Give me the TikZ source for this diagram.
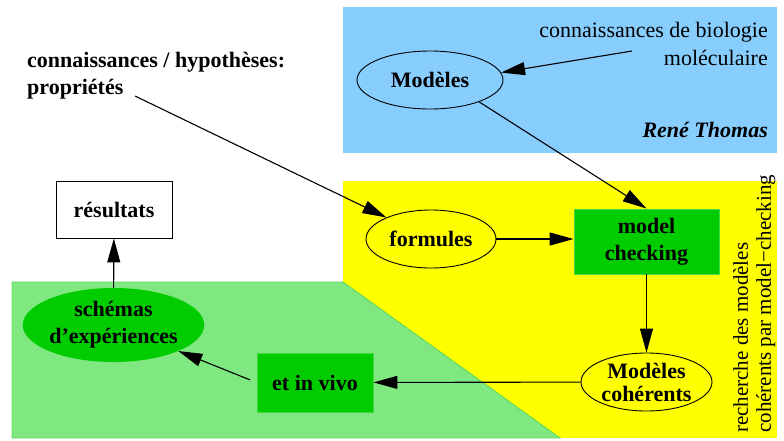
\documentclass[tikz,border=0pt]{standalone}
\usepackage{fontspec}
\setmainfont{Liberation Serif}
\usetikzlibrary{arrows.meta,shapes.geometric}
\definecolor{skyzone}{HTML}{87CEFF}
\definecolor{mczone}{HTML}{FFFF00}
\definecolor{labzone}{HTML}{80E880}
\definecolor{labedge}{HTML}{60D860}
\definecolor{nodegreen}{HTML}{00CC00}
\begin{document}
\begin{tikzpicture}[x=1pt,y=-1pt,
  lbl/.style={font=\fontsize{22}{27}\selectfont\bfseries, align=center, inner sep=0pt},
  oval/.style={lbl, ellipse, draw, line width=0.9pt},
  gbox/.style={lbl, rectangle, fill=nodegreen, draw=nodegreen!75!white, line width=0.9pt},
  plain/.style={font=\fontsize{22}{28}\selectfont, inner sep=0pt},
  flow/.style={line width=1.1pt, -{Triangle[length=24pt,width=13pt]}},
]
\useasboundingbox (0,0) rectangle (784,440);

% background zones
\fill[skyzone] (343,7) rectangle (777,153);
\fill[mczone] (343,181) rectangle (777,438);
\filldraw[fill=labzone, draw=labedge, line width=0.9pt]
  (12,282) -- (343,282) -- (560,438) -- (12,438) -- cycle;

% free texts
\node[plain, align=right, anchor=north east] (bio) at (768,22)
  {connaissances de biologie\\moléculaire};
\node[plain, font=\fontsize{22}{28}\selectfont\bfseries\itshape, anchor=base east] (rene) at (768,137) {René Thomas};
\node[plain, font=\fontsize{22}{27}\selectfont\bfseries, align=left, anchor=north west] (props) at (27,52)
  {connaissances / hypothèses:\\propriétés};
\node[plain, font=\fontsize{21}{23}\selectfont, align=left, rotate=90, anchor=north west] (search) at (733,433)
  {recherche des modèles\\cohérents par model−checking};

% nodes
\node[oval, minimum width=146pt, minimum height=58pt] (modeles) at (430,80) {Modèles};
\node[oval, minimum width=130pt, minimum height=58pt] (formules) at (431,239) {formules};
\node[gbox, minimum width=145pt, minimum height=65pt] (mc) at (646.5,241.5) {model\\checking};
\node[oval, minimum width=131pt, minimum height=58pt, font=\fontsize{22}{23}\selectfont\bfseries] (coh) at (646.5,382) {Modèles\\cohérents};
\node[gbox, minimum width=116pt, minimum height=59pt] (vivo) at (315,382.5) {et in vivo};
\node[lbl, ellipse, fill=nodegreen, minimum width=173pt, minimum height=74pt] (schemas) at (113.5,325) {schémas\\d’expériences};
\node[lbl, rectangle, draw, fill=white, line width=0.9pt, minimum width=116pt, minimum height=57pt] (res) at (114,209.5) {résultats};

% free ends of the incoming arrows
\coordinate (bioout) at (632,51);
\coordinate (propout) at (135,96);

% connectors
\draw[flow] (bioout) -- (modeles.6);
\draw[flow] (propout) -- (formules);
\draw[flow] (modeles.-24) -- (mc.north);
\draw[flow] (formules.east) -- (formules.east -| mc.west);
\draw[flow] (mc) -- (coh);
\draw[flow] (coh) -- (vivo);
\draw[flow, shorten <=7pt] (vivo.west) -- (schemas);
\draw[flow] (schemas) -- (res);
\end{tikzpicture}
\end{document}
